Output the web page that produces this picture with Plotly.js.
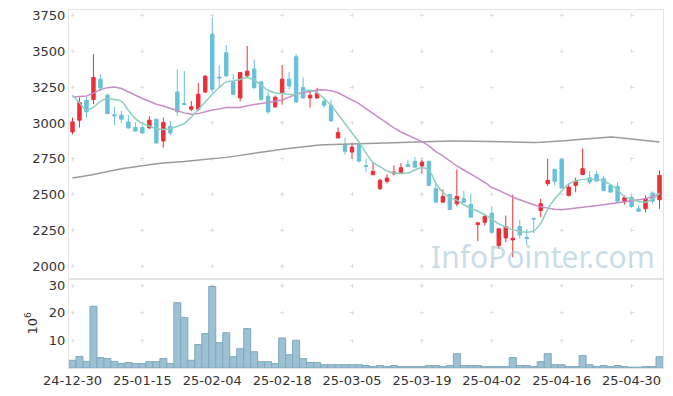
<!DOCTYPE html>
<html><head><meta charset="utf-8">
<script src="https://cdn.plot.ly/plotly-3.0.1.min.js"></script>
<style>html,body{margin:0;padding:0;background:#fff}#chart{width:673px;height:396px}</style>
</head><body><div id="chart"></div>
<script>
const dates = ["24-12-30","25-01-02","25-01-03","25-01-06","25-01-07","25-01-08","25-01-09","25-01-10","25-01-13","25-01-14",
"25-01-15","25-01-16","25-01-17","25-01-20","25-01-21","25-01-22","25-01-23","25-01-24","25-01-31","25-02-03",
"25-02-04","25-02-05","25-02-06","25-02-07","25-02-10","25-02-11","25-02-12","25-02-13","25-02-14","25-02-17",
"25-02-18","25-02-19","25-02-20","25-02-21","25-02-24","25-02-25","25-02-26","25-02-27","25-02-28","25-03-04",
"25-03-05","25-03-06","25-03-07","25-03-10","25-03-11","25-03-12","25-03-13","25-03-14","25-03-17","25-03-18",
"25-03-19","25-03-20","25-03-21","25-03-24","25-03-25","25-03-26","25-03-27","25-03-28","25-03-31","25-04-01",
"25-04-02","25-04-03","25-04-04","25-04-07","25-04-08","25-04-09","25-04-10","25-04-11","25-04-14","25-04-15",
"25-04-16","25-04-17","25-04-18","25-04-21","25-04-22","25-04-23","25-04-24","25-04-25","25-04-28","25-04-29",
"25-04-30","25-05-02","25-05-07","25-05-08","25-05-09"];

const openP  = [2937,3019,3158,3163,3305,3193,3057,3054,3007,2968, 2968,2965,3026,2874,2977,3216,3136,3096,3096,3216,
                3619,3320,3489,3286,3174,3328,3375,3286,3186,3112, 3209,3305,3461,3247,3174,3174,3151,3123,2895,2849,
                2797,2849,2703,2639,2542,2593,2646,2653,2711,2732, 2700,2732,2542,2448,2502,2437,2472,2432,2292,2308,
                2371,2146,2199,2185,2278,2202,2335,2390,2577,2676, 2746,2495,2565,2641,2618,2641,2611,2565,2558,2455,
                2483,2402,2402,2511,2465];
const highP  = [3037,3177,3181,3480,3340,3205,3112,3084,3054,3005, 2984,3047,3026,3037,3014,3373,3361,3153,3279,3333,
                3736,3403,3543,3340,3354,3536,3443,3293,3216,3191, 3403,3356,3480,3317,3216,3244,3174,3163,2968,2898,
                2863,2853,2751,2723,2612,2642,2704,2720,2744,2762, 2744,2737,2581,2537,2502,2676,2525,2507,2304,2367,
                2420,2262,2355,2500,2325,2262,2339,2472,2751,2681, 2751,2581,2619,2821,2665,2665,2630,2565,2588,2495,
                2495,2425,2495,2523,2669];
const lowP   = [2921,2968,3037,3130,3223,3060,2984,3000,2961,2940, 2926,2961,2860,2828,2914,3047,3124,3082,3082,3207,
                3212,3247,3321,3193,3151,3319,3235,3153,3065,3105, 3128,3233,3142,3170,3107,3170,3107,3010,2895,2779,
                2751,2723,2657,2639,2532,2577,2635,2646,2697,2692, 2646,2558,2448,2448,2397,2420,2448,2343,2176,2285,
                2227,2122,2169,2064,2192,2146,2232,2343,2560,2565, 2546,2488,2518,2641,2572,2588,2530,2516,2448,2432,
                2409,2385,2378,2437,2402];
const closeP = [3007,3142,3077,3317,3244,3065,3050,3026,2965,2944, 2930,3019,2860,3003,2930,3077,3128,3112,3200,3326,
                3235,3314,3328,3200,3352,3361,3247,3165,3077,3179, 3305,3258,3146,3174,3193,3205,3123,3014,2933,2802,
                2832,2734,2698,2662,2600,2616,2658,2688,2697,2692, 2727,2565,2448,2488,2397,2488,2448,2343,2304,2348,
                2238,2262,2278,2197,2220,2195,2330,2437,2600,2593, 2546,2553,2595,2681,2588,2595,2530,2518,2455,2479,
                2418,2385,2472,2455,2634];

const volume = [2.8,4.2,2.4,22.4,3.8,3.4,2.4,1.6,2.0,1.6, 1.6,2.3,2.3,3.4,1.6,23.7,18.3,2.8,8.5,12.5,
                29.6,9.2,12.8,4.1,7.0,14.3,5.9,2.3,2.3,1.6, 10.9,4.8,10.1,3.4,2.0,2.0,1.2,1.2,1.2,1.2,
                1.2,1.2,0.9,0.5,0.9,0.5,0.9,0.5,0.5,0.5, 0.5,0.9,0.9,0.5,0.9,5.2,0.9,0.9,0.9,0.5,
                0.5,0.5,0.5,3.8,0.9,0.9,0.5,2.3,5.2,1.2, 1.2,0.5,0.5,4.5,1.2,0.5,0.9,0.5,0.9,0.5,
                0.3,0.3,0.5,0.5,4.1];

const ma5  = [3193,3140,3089,3110,3150,3170,3163,3151,3089,3030, 2996,2979,2961,2954,2961,2977,2996,3042,3093,3146,
              3200,3247,3286,3291,3303,3317,3298,3263,3228,3209, 3205,3200,3198,3220,3228,3210,3170,3123,3060,2996,
              2930,2867,2790,2725,2695,2665,2651,2648,2651,2672, 2690,2670,2580,2515,2480,2462,2430,2405,2385,2360,
              2330,2297,2275,2255,2245,2238,2248,2300,2400,2470, 2525,2575,2595,2605,2607,2607,2595,2570,2535,2485,
              2470,2453,2448,2470,2511];
const ma20 = [3181,3184,3188,3208,3232,3246,3251,3240,3215,3193, 3170,3151,3130,3118,3100,3085,3070,3060,3065,3078,
              3090,3098,3107,3107,3108,3120,3130,3136,3142,3150, 3160,3180,3200,3210,3220,3230,3232,3225,3210,3185,
              3160,3135,3100,3065,3030,2995,2965,2937,2915,2890, 2870,2840,2800,2770,2735,2700,2672,2645,2615,2585,
              2550,2530,2505,2483,2465,2445,2430,2415,2405,2398, 2395,2400,2407,2415,2420,2425,2430,2437,2445,2452,
              2458,2465,2472,2488,2507];
const ma60 = [2616,2622,2632,2641,2652,2661,2670,2680,2688,2696, 2703,2710,2716,2721,2723,2726,2731,2736,2740,2745,
              2750,2755,2760,2767,2775,2783,2790,2797,2804,2810, 2816,2822,2830,2836,2840,2845,2848,2849,2850,2851,
              2852,2853,2855,2856,2858,2860,2862,2864,2866,2868, 2870,2872,2873,2874,2874,2874,2874,2874,2874,2874,
              2873,2871,2869,2867,2865,2864,2863,2865,2867,2870, 2874,2878,2882,2886,2890,2895,2900,2902,2898,2893,
              2888,2883,2878,2872,2867];

const priceTicks = [2000,2250,2500,2750,3000,3250,3500,3750];
const volTicks = [10,20,30];
const dateTicks = dates.filter((d,i)=>i%10===0);

const font = {family:'DejaVu Sans', size:13, color:'#333'};
const frame = '#e3e3e3';
const grid = '#e0e0e0';

const traces = [
  {type:'candlestick', x:dates, open:openP, high:highP, low:lowP, close:closeP, xaxis:'x', yaxis:'y',
   increasing:{line:{color:'#ec2f37', width:1}, fillcolor:'#ec2f37'},
   decreasing:{line:{color:'#68c0da', width:1}, fillcolor:'#68c0da'},
   whiskerwidth:0, hoverinfo:'skip'},
  {type:'scatter', mode:'lines', x:dates, y:ma60, xaxis:'x', yaxis:'y', line:{color:'#9b9b9b', width:1.5}, hoverinfo:'skip'},
  {type:'scatter', mode:'lines', x:dates, y:ma20, xaxis:'x', yaxis:'y', line:{color:'#c98cc7', width:1.5}, hoverinfo:'skip'},
  {type:'scatter', mode:'lines', x:dates, y:ma5, xaxis:'x', yaxis:'y', line:{color:'#8ccfc2', width:1.5, shape:'spline'}, hoverinfo:'skip'},
  {type:'bar', x:dates, y:volume, xaxis:'x2', yaxis:'y2',
   marker:{color:'#9dc1d3', line:{color:'#7ea9be', width:1}}, hoverinfo:'skip'}
];

const xcommon = {type:'category', range:[-0.5, dates.length-0.5], showline:true, mirror:true, linecolor:frame, linewidth:1,
  ticks:'', showgrid:true, gridcolor:grid, gridwidth:1, zeroline:false, tickvals:dateTicks, ticktext:dateTicks,
  tickfont:font, fixedrange:true};

const layout = {
  width:673, height:396, margin:{l:69, r:10, t:10, b:28},
  paper_bgcolor:'#fff', plot_bgcolor:'#fff', showlegend:false, hovermode:false, bargap:0,
  xaxis: Object.assign({}, xcommon, {anchor:'y', showticklabels:false, rangeslider:{visible:false}, griddash:'0px,3.3px,4px,28.5px'}),
  xaxis2: Object.assign({}, xcommon, {anchor:'y2', matches:'x', showticklabels:true, griddash:'0px,5px,4px,18.5px'}),
  yaxis: {domain:[0.25,1], range:[1916,3787], tickvals:priceTicks, ticktext:priceTicks.map(String), showline:true, mirror:true,
    linecolor:frame, ticks:'', showgrid:true, gridcolor:grid, griddash:'0px,1.5px,4px,64.4px', zeroline:false, tickfont:font, fixedrange:true},
  yaxis2: {domain:[0,0.25], range:[0,32.5], tickvals:volTicks, ticktext:volTicks.map(String), showline:true, mirror:true,
    linecolor:frame, ticks:'', showgrid:true, gridcolor:grid, griddash:'0px,1.5px,4px,64.4px', zeroline:false, tickfont:font, fixedrange:true,
    title:{text:'10<sup>6</sup>', font:{family:'DejaVu Sans', size:13, color:'#333'}, standoff:8}},
  annotations:[{xref:'paper', yref:'paper', x:0.99, y:0.312, xanchor:'right', yanchor:'middle', showarrow:false,
    text:'InfoPointer.com', font:{family:'Noto Sans', size:30, color:'rgba(165,198,215,0.6)'}}]
};

Plotly.newPlot('chart', traces, layout, {displayModeBar:false, staticPlot:true});
</script>
</body></html>
